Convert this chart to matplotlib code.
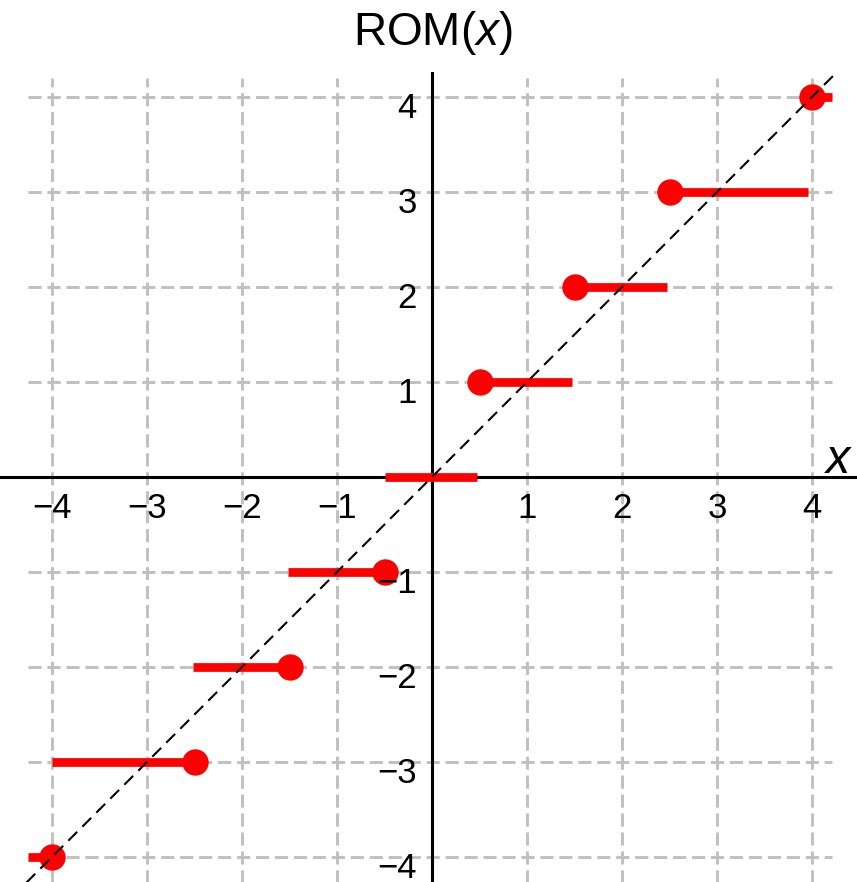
import matplotlib.pyplot as plt

plt.rcParams['font.family'] = ['Liberation Sans', 'DejaVu Sans']
plt.rcParams['mathtext.fontset'] = 'custom'
plt.rcParams['mathtext.rm'] = 'Liberation Sans'
plt.rcParams['mathtext.it'] = 'Liberation Sans:italic'

# horizontal red pieces of ROM(x)
seg_y = [-4, -3, -2, -1, 0, 1, 2, 3, 4]
seg_start = [-4.25, -4.0, -2.52, -1.52, -0.5, 0.5, 1.5, 2.5, 4.0]
seg_end = [-4.0, -2.5, -1.5, -0.5, 0.47, 1.47, 2.47, 3.96, 4.21]

# closed end points
dot_x = [-4.0, -2.5, -1.5, -0.5, 0.5, 1.5, 2.5, 4.0]
dot_y = [-4, -3, -2, -1, 1, 2, 3, 4]

# dashed reference y = x
ref_x = [-4.27, 4.24]
ref_y = [-4.27, 4.24]

ticks = [-4, -3, -2, -1, 1, 2, 3, 4]
tick_labels = ['\u22124', '\u22123', '\u22122', '\u22121', '1', '2', '3', '4']

PX = 95.0  # pixels per unit

fig = plt.figure(figsize=(8.57, 8.82), dpi=100)
ax = fig.add_axes([0, 0, 1, 1])
ax.set_xlim(-432 / PX, 425 / PX)
ax.set_ylim(-405 / PX, 477 / PX)
ax.axis('off')

# grid
for t in ticks:
    ax.plot([-4.25, 4.21], [t, t], color='#c0c0c0', lw=2.1, dashes=(4.5, 2), zorder=1)
    ax.plot([t, t], [-4.3, 4.2], color='#c0c0c0', lw=2.1, dashes=(4.5, 2), zorder=1)

# axes
ax.axhline(0, color='black', lw=2.2, zorder=2)
ax.plot([0, 0], [-4.3, 4.25], color='black', lw=2.2, zorder=2)

# ROM(x)
ax.hlines(seg_y, seg_start, seg_end, colors='red', lw=6.3, capstyle='butt', zorder=4)
ax.plot(dot_x, dot_y, 'o', ms=19, color='red', mec='none', zorder=5, clip_on=False)

# y = x
ax.plot(ref_x, ref_y, color='black', lw=1.5, dashes=(6, 3.5), zorder=6)

# tick labels
for t, lab in zip(ticks, tick_labels):
    ax.text(t, -0.43, lab, fontsize=25, ha='center', va='baseline', zorder=7)
    ax.text(-0.16, t - 0.225, lab, fontsize=25, ha='right', va='baseline', zorder=7)

ax.text(4.28, (477 - 473) / PX, '$x$', fontsize=35, ha='center', va='baseline')
fig.text(433 / 857, 1 - 45 / 882, r'$\mathrm{ROM}(x)$', fontsize=33, ha='center', va='baseline')

fig.savefig('out.png', dpi=100)
